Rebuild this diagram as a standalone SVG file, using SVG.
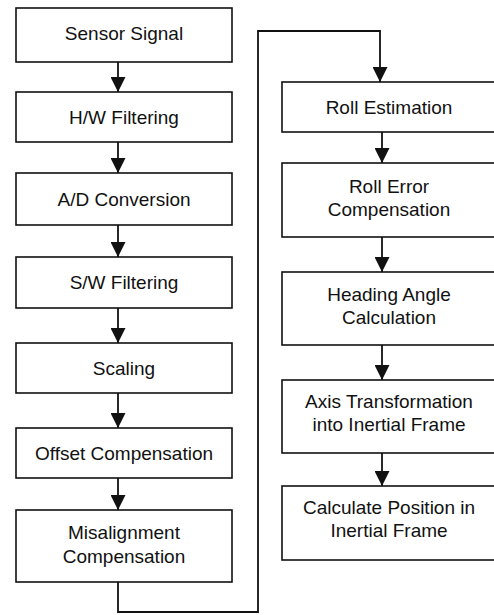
<svg xmlns="http://www.w3.org/2000/svg" width="494" height="615" viewBox="0 0 494 615">
<style>
.box{fill:#fff;stroke:#111;stroke-width:1.6}
.t{font-family:"Liberation Sans",Arial,sans-serif;font-size:19px;fill:#111;text-anchor:middle}
.c{fill:none;stroke:#111;stroke-width:1.8}
</style>
<defs>
<marker id="ah" markerUnits="userSpaceOnUse" markerWidth="15" markerHeight="15" viewBox="0 0 15 15" refX="15" refY="7.5" orient="auto">
<path d="M0,0 L15,7.5 L0,15 Z" fill="#111"/>
</marker>
</defs>
<rect width="494" height="615" fill="#fff"/>
<g id="connectors">
<line class="c" x1="118" y1="62" x2="118" y2="92" marker-end="url(#ah)"/>
<line class="c" x1="118" y1="142" x2="118" y2="173" marker-end="url(#ah)"/>
<line class="c" x1="118" y1="225" x2="118" y2="257" marker-end="url(#ah)"/>
<line class="c" x1="118" y1="308" x2="118" y2="343" marker-end="url(#ah)"/>
<line class="c" x1="118" y1="393" x2="118" y2="428" marker-end="url(#ah)"/>
<line class="c" x1="118" y1="478" x2="118" y2="510" marker-end="url(#ah)"/>
<polyline class="c" points="118,582 118,612 258,612 258,31 380,31 380,82" marker-end="url(#ah)"/>
<line class="c" x1="382" y1="132" x2="382" y2="163" marker-end="url(#ah)"/>
<line class="c" x1="382" y1="237" x2="382" y2="272" marker-end="url(#ah)"/>
<line class="c" x1="382" y1="345" x2="382" y2="380" marker-end="url(#ah)"/>
<line class="c" x1="382" y1="453" x2="382" y2="486" marker-end="url(#ah)"/>
</g>
<g id="sensor-signal"><rect class="box" x="16" y="8" width="216" height="54"/><text class="t" x="124" y="40">Sensor Signal</text></g>
<g id="hw-filtering"><rect class="box" x="16" y="92" width="216" height="50"/><text class="t" x="124" y="124">H/W Filtering</text></g>
<g id="ad-conversion"><rect class="box" x="16" y="173" width="216" height="52"/><text class="t" x="124" y="206">A/D Conversion</text></g>
<g id="sw-filtering"><rect class="box" x="16" y="257" width="216" height="51"/><text class="t" x="124" y="289">S/W Filtering</text></g>
<g id="scaling"><rect class="box" x="16" y="343" width="216" height="50"/><text class="t" x="124" y="375">Scaling</text></g>
<g id="offset-compensation"><rect class="box" x="16" y="428" width="216" height="50"/><text class="t" x="124" y="460">Offset Compensation</text></g>
<g id="misalignment-compensation"><rect class="box" x="16" y="510" width="216" height="72"/><text class="t" x="124" y="539">Misalignment</text><text class="t" x="124" y="563">Compensation</text></g>
<g id="roll-estimation"><rect class="box" x="282" y="82" width="220" height="50"/><text class="t" x="389" y="114">Roll Estimation</text></g>
<g id="roll-error-compensation"><rect class="box" x="282" y="163" width="220" height="74"/><text class="t" x="389" y="193">Roll Error</text><text class="t" x="389" y="216">Compensation</text></g>
<g id="heading-angle-calculation"><rect class="box" x="282" y="272" width="220" height="73"/><text class="t" x="389" y="301">Heading Angle</text><text class="t" x="389" y="324">Calculation</text></g>
<g id="axis-transformation"><rect class="box" x="282" y="380" width="220" height="73"/><text class="t" x="389" y="408">Axis Transformation</text><text class="t" x="389" y="431">into Inertial Frame</text></g>
<g id="calculate-position"><rect class="box" x="282" y="486" width="220" height="74"/><text class="t" x="389" y="514">Calculate Position in</text><text class="t" x="389" y="537">Inertial Frame</text></g>
</svg>
